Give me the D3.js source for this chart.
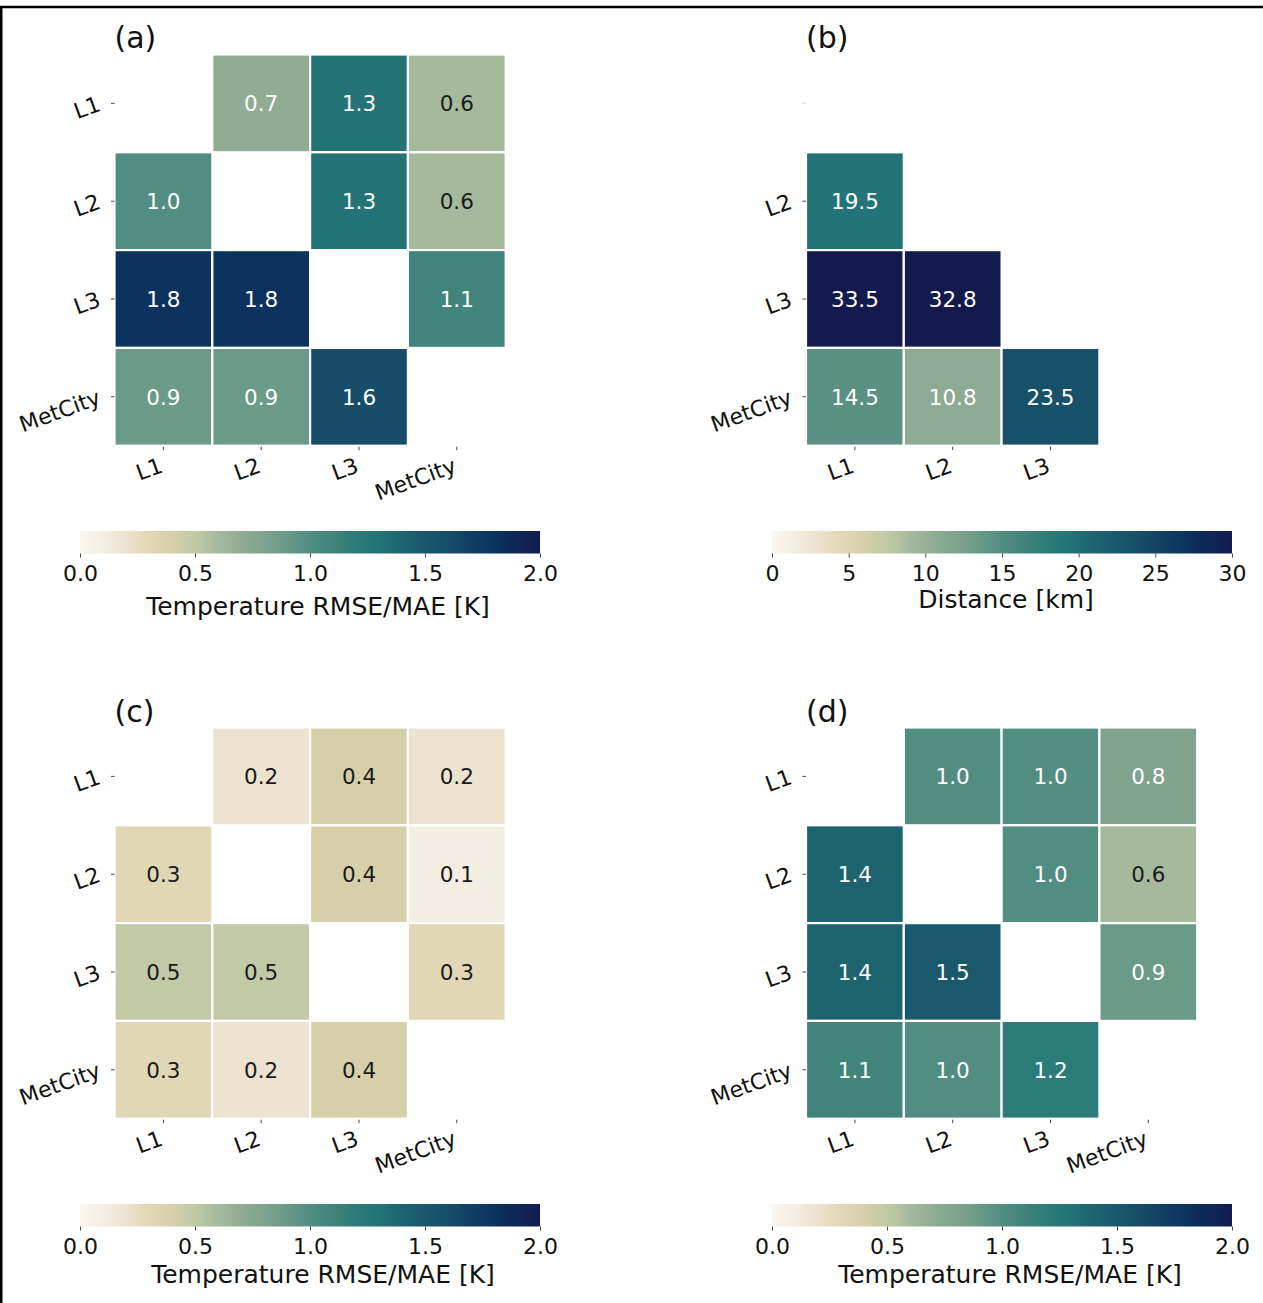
<!DOCTYPE html>
<html>
<head>
<meta charset="utf-8">
<script src="https://cdn.jsdelivr.net/npm/d3@7"></script>
<style>
  body { margin: 0; background: #fff; }
  svg { display: block; }
  text { font-family: "DejaVu Sans", sans-serif; fill: #111; }
</style>
</head>
<body>
<svg id="fig" width="1263" height="1303"></svg>
<script>
// Station names used on both heatmap axes
const sites = ["L1", "L2", "L3", "MetCity"];
const sitesB = ["L1", "L2", "L3"];

// (a) temperature RMSE between station pairs [K]; rows = sites, cols = sites
const rmseA = [
  [null, 0.7, 1.3, 0.6],
  [1.0, null, 1.3, 0.6],
  [1.8, 1.8, null, 1.1],
  [0.9, 0.9, 1.6, null]
];
// (b) distance between stations [km]; rows = sites, cols = sitesB
const distB = [
  [null, null, null],
  [19.5, null, null],
  [33.5, 32.8, null],
  [14.5, 10.8, 23.5]
];
// (c) temperature RMSE/MAE [K]
const rmseC = [
  [null, 0.2, 0.4, 0.2],
  [0.3, null, 0.4, 0.1],
  [0.5, 0.5, null, 0.3],
  [0.3, 0.2, 0.4, null]
];
// (d) temperature RMSE/MAE [K]
const rmseD = [
  [null, 1.0, 1.0, 0.8],
  [1.4, null, 1.0, 0.6],
  [1.4, 1.5, null, 0.9],
  [1.1, 1.0, 1.2, null]
];

const rmseTicks = [0.0, 0.5, 1.0, 1.5, 2.0];
const distTicks = [0, 5, 10, 15, 20, 25, 30];

// cream -> tan -> sage -> teal -> navy colour ramp
const palette = [
  "#fbf7f0", "#f3eee2", "#ebe3cf", "#e0d7b7", "#d5d0aa", "#c1c9a6",
  "#a5ba9d", "#90ac93", "#7fa38d", "#6a9a88", "#528d81", "#418479",
  "#2b7b78", "#237377", "#1d646f", "#1a586c", "#174d69", "#113f62",
  "#0b335e", "#0e2757", "#131b4e"
];
const ramp = d3.piecewise(d3.interpolateRgb, palette);

const f1 = d3.format(".1f");
const fInt = d3.format("d");

const panels = [
  { tag: "(a)", values: rmseA, rows: sites, cols: sites, max: 2, ticks: rmseTicks,
    tickFmt: f1, label: "Temperature RMSE/MAE [K]",
    gx: 114.5, gy: 54.5, tagY: 48, cx: 80, cy: 531, labelDx: 8, labelY: 615, hideFirstRow: false },
  { tag: "(b)", values: distB, rows: sites, cols: sitesB, max: 30, ticks: distTicks,
    tickFmt: fInt, label: "Distance [km]",
    gx: 806, gy: 54.5, tagY: 48, cx: 772, cy: 531, labelDx: 4, labelY: 608, hideFirstRow: true },
  { tag: "(c)", values: rmseC, rows: sites, cols: sites, max: 2, ticks: rmseTicks,
    tickFmt: f1, label: "Temperature RMSE/MAE [K]",
    gx: 114.5, gy: 727.5, tagY: 722, cx: 80, cy: 1204, labelDx: 13, labelY: 1283, hideFirstRow: false },
  { tag: "(d)", values: rmseD, rows: sites, cols: sites, max: 2, ticks: rmseTicks,
    tickFmt: f1, label: "Temperature RMSE/MAE [K]",
    gx: 806, gy: 727.5, tagY: 722, cx: 772, cy: 1204, labelDx: 8, labelY: 1283, hideFirstRow: false }
];

const CELL = 97.8;
const BAR_W = 460;
const BAR_H = 22.5;
const ROT = -20;

const svg = d3.select("#fig");

// gradient used by every colourbar
const defs = svg.append("defs");
const grad = defs.append("linearGradient").attr("id", "ramp")
  .attr("x1", "0%").attr("x2", "100%").attr("y1", "0%").attr("y2", "0%");
d3.range(0, 1.0001, 0.02).forEach(t => {
  grad.append("stop").attr("offset", (t * 100) + "%").attr("stop-color", ramp(t));
});

function luminance(c) {
  const rgb = d3.rgb(c);
  const lin = v => { v /= 255; return v <= 0.03928 ? v / 12.92 : Math.pow((v + 0.055) / 1.055, 2.4); };
  return 0.2126 * lin(rgb.r) + 0.7152 * lin(rgb.g) + 0.0722 * lin(rgb.b);
}

panels.forEach(p => {
  const g = svg.append("g");
  const color = d3.scaleSequential(ramp).domain([0, p.max]).clamp(true);

  const x = d3.scaleBand().domain(p.cols).range([p.gx, p.gx + CELL * p.cols.length]);
  const y = d3.scaleBand().domain(p.rows).range([p.gy, p.gy + CELL * p.rows.length]);

  const cells = [];
  p.values.forEach((row, i) => row.forEach((v, j) => {
    if (v !== null) cells.push({ r: p.rows[i], c: p.cols[j], v });
  }));

  g.selectAll("rect.cell").data(cells).join("rect")
    .attr("class", "cell")
    .attr("x", d => x(d.c))
    .attr("y", d => y(d.r))
    .attr("width", x.bandwidth())
    .attr("height", y.bandwidth())
    .attr("fill", d => color(d.v))
    .attr("stroke", "#fff")
    .attr("stroke-width", 2.2);

  g.selectAll("text.annot").data(cells).join("text")
    .attr("class", "annot")
    .attr("x", d => x(d.c) + x.bandwidth() / 2)
    .attr("y", d => y(d.r) + y.bandwidth() / 2)
    .attr("dy", "0.36em")
    .attr("text-anchor", "middle")
    .style("font-size", "21.5px")
    .style("fill", d => luminance(color(d.v)) <= 0.408 ? "#ffffff" : "#1a1a1a")
    .text(d => f1(d.v));

  // y axis (rotated tick labels)
  const yAxis = g.append("g")
    .attr("transform", `translate(${p.gx},0)`)
    .call(d3.axisLeft(y).tickSize(3.5).tickPadding(11.5));
  yAxis.select(".domain").remove();
  yAxis.selectAll(".tick line").attr("stroke", "#333").attr("stroke-width", 0.9);
  yAxis.selectAll(".tick text")
    .attr("fill", null)
    .style("font-size", "22px")
    .attr("dy", "0.33em")
    .attr("transform", function() {
      const xx = +d3.select(this).attr("x");
      return `rotate(${ROT},${xx},0)`;
    });
  if (p.hideFirstRow) {
    const first = yAxis.selectAll(".tick").filter(d => d === p.rows[0]);
    first.select("text").remove();
    first.select("line").attr("stroke", "#d8d8d8");
  }

  // x axis (rotated tick labels, right-aligned under the tick)
  const xAxis = g.append("g")
    .attr("transform", `translate(0,${p.gy + CELL * p.rows.length})`)
    .call(d3.axisBottom(x).tickSize(4.5).tickPadding(8));
  xAxis.select(".domain").remove();
  xAxis.selectAll(".tick line").attr("stroke", "#333").attr("stroke-width", 0.9).attr("y1", 1);
  xAxis.selectAll(".tick text")
    .attr("fill", null)
    .style("font-size", "22px")
    .attr("text-anchor", "end")
    .attr("x", -5)
    .attr("y", 10)
    .attr("dy", "0.78em")
    .attr("transform", `rotate(${ROT},-5,10)`);

  // panel tag
  g.append("text")
    .attr("x", p.gx)
    .attr("y", p.tagY)
    .style("font-size", "30px")
    .text(p.tag);

  // colourbar
  const cb = svg.append("g");
  const cs = d3.scaleLinear().domain([0, p.max]).range([p.cx, p.cx + BAR_W]);
  cb.append("rect")
    .attr("x", p.cx).attr("y", p.cy)
    .attr("width", BAR_W).attr("height", BAR_H)
    .attr("fill", "url(#ramp)");
  const cax = cb.append("g")
    .attr("transform", `translate(0,${p.cy + BAR_H})`)
    .call(d3.axisBottom(cs).tickValues(p.ticks).tickFormat(p.tickFmt).tickSize(4).tickPadding(8));
  cax.select(".domain").remove();
  cax.selectAll(".tick line").attr("stroke", "#333").attr("stroke-width", 0.9);
  cax.selectAll(".tick text").attr("fill", null).style("font-size", "22px");
  cb.append("text")
    .attr("x", p.cx + BAR_W / 2 + p.labelDx)
    .attr("y", p.labelY)
    .attr("text-anchor", "middle")
    .style("font-size", "25px")
    .text(p.label);
});

// outer frame (top and left edges)
svg.append("path")
  .attr("d", "M0,7H1263M1.25,7V1303")
  .attr("fill", "none")
  .attr("stroke", "#000")
  .attr("stroke-width", 2.5);
</script>
</body>
</html>
